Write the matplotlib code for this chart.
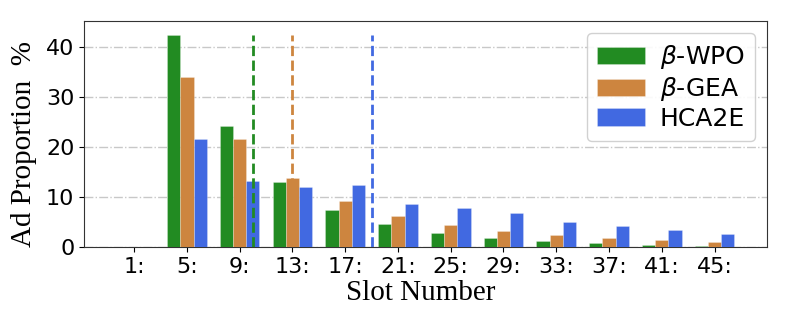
import numpy as np
import matplotlib
matplotlib.use('Agg')
import matplotlib.pyplot as plt

slots = ['1:', '5:', '9:', '13:', '17:', '21:', '25:', '29:', '33:', '37:', '41:', '45:']
wpo = [0, 42.4, 24.3, 13.1, 7.5, 4.6, 2.9, 1.9, 1.3, 0.8, 0.5, 0.3]
gea = [0, 34.1, 21.6, 13.9, 9.2, 6.2, 4.4, 3.3, 2.5, 1.8, 1.4, 1.1]
hca = [0, 21.7, 13.2, 12.0, 12.5, 8.6, 7.8, 6.9, 5.1, 4.3, 3.5, 2.7]
# mean slot positions (in category units) drawn as dashed lines
mean_pos = [2.25, 3.0, 4.5]

colors = ['forestgreen', 'peru', 'royalblue']
names = [r'$\beta$-WPO', r'$\beta$-GEA', 'HCA2E']

fig = plt.figure(figsize=(7.89, 3.13), dpi=100)
ax = fig.add_axes([0.1065, 0.21, 0.866, 0.723])

x = np.arange(len(slots))
w = 0.25
for i, (vals, c, n) in enumerate(zip([wpo, gea, hca], colors, names)):
    ax.bar(x + (i - 1) * w, vals, w, color=c, label=n, edgecolor=(1, 1, 1, 0.35), linewidth=0.5, zorder=3)

top = max(wpo)
for p, c in zip(mean_pos, colors):
    ax.vlines(p, 0, top, colors=c, linestyles='--', linewidth=2, zorder=4)

ax.yaxis.grid(True, linestyle='-.', color='#c8c8c8', linewidth=1, zorder=0)
ax.set_xticks(x)
ax.set_xticklabels(slots)
ax.set_xlim(-0.95, 12.0)
ax.set_ylim(0, 45.2)
ax.set_yticks([0, 10, 20, 30, 40])
ax.tick_params(labelsize=16)
for s in ax.spines.values():
    s.set_color('#333333')

ax.set_xlabel('Slot Number', fontsize=21, family='Liberation Serif')
ax.xaxis.set_label_coords(0.493, -0.145)
ax.set_ylabel('Ad Proportion  %', fontsize=21, family='Liberation Serif')
ax.yaxis.set_label_coords(-0.069, 0.456)

ax.legend(fontsize=18, loc='upper right', handlelength=1.9, framealpha=0.9,
          borderpad=0.4, labelspacing=0.15, handletextpad=0.6)

fig.savefig('out.png', dpi=100)
